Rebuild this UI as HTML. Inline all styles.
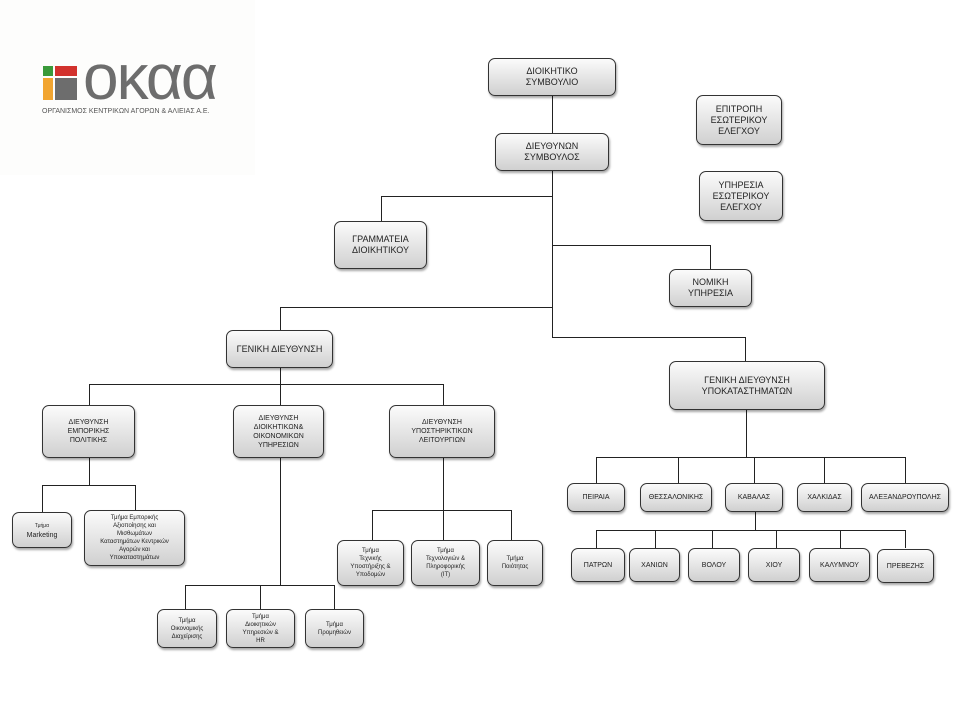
<!DOCTYPE html>
<html><head><meta charset="utf-8"><style>
body{margin:0;width:960px;height:720px;background:#fff;position:relative;overflow:hidden;font-family:"Liberation Sans","DejaVu Sans",sans-serif}
.b{position:absolute;box-sizing:border-box;border:1px solid #333;border-radius:7px;background:linear-gradient(#fbfbfb,#d0d0d0);box-shadow:1px 2px 2px rgba(0,0,0,.35);display:flex;align-items:center;justify-content:center;text-align:center;font-size:9px;line-height:11px;color:#222}
.s{font-size:7px;line-height:9px}
.l{position:absolute;background:#222}
</style></head><body>
<div style="position:absolute;left:0;top:0;width:255px;height:175px;background:#fdfdfc"></div>
<div style="position:absolute;left:43px;top:66px;width:10px;height:10px;background:#3a9a3a"></div>
<div style="position:absolute;left:55px;top:66px;width:22px;height:10px;background:#d2322d"></div>
<div style="position:absolute;left:43px;top:78px;width:10px;height:22px;background:#f2a530"></div>
<div style="position:absolute;left:55px;top:78px;width:22px;height:22px;background:#6d6d6d"></div>
<div style="position:absolute;left:83px;top:45px;font-size:64px;line-height:64px;color:#6d6d6d;letter-spacing:-2px;font-weight:300">οκαα</div>
<div style="position:absolute;left:42px;top:108px;font-size:7px;color:#555;white-space:nowrap;letter-spacing:0px">ΟΡΓΑΝΙΣΜΟΣ ΚΕΝΤΡΙΚΩΝ ΑΓΟΡΩΝ &amp; ΑΛΙΕΙΑΣ Α.Ε.</div>

<!-- lines -->
<div class="l" style="left:552px;top:96px;width:1px;height:242px"></div>
<div class="l" style="left:381px;top:196px;width:172px;height:1px"></div>
<div class="l" style="left:381px;top:196px;width:1px;height:25px"></div>
<div class="l" style="left:552px;top:245px;width:158px;height:1px"></div>
<div class="l" style="left:710px;top:245px;width:1px;height:24px"></div>
<div class="l" style="left:280px;top:307px;width:273px;height:1px"></div>
<div class="l" style="left:280px;top:307px;width:1px;height:23px"></div>
<div class="l" style="left:552px;top:337px;width:194px;height:1px"></div>
<div class="l" style="left:745px;top:337px;width:1px;height:24px"></div>
<div class="l" style="left:280px;top:368px;width:1px;height:16px"></div>
<div class="l" style="left:89px;top:384px;width:355px;height:1px"></div>
<div class="l" style="left:89px;top:384px;width:1px;height:21px"></div>
<div class="l" style="left:280px;top:384px;width:1px;height:21px"></div>
<div class="l" style="left:443px;top:384px;width:1px;height:21px"></div>
<div class="l" style="left:89px;top:458px;width:1px;height:27px"></div>
<div class="l" style="left:42px;top:485px;width:94px;height:1px"></div>
<div class="l" style="left:42px;top:485px;width:1px;height:27px"></div>
<div class="l" style="left:135px;top:485px;width:1px;height:25px"></div>
<div class="l" style="left:280px;top:458px;width:1px;height:127px"></div>
<div class="l" style="left:185px;top:585px;width:150px;height:1px"></div>
<div class="l" style="left:185px;top:585px;width:1px;height:24px"></div>
<div class="l" style="left:260px;top:585px;width:1px;height:24px"></div>
<div class="l" style="left:334px;top:585px;width:1px;height:24px"></div>
<div class="l" style="left:443px;top:458px;width:1px;height:52px"></div>
<div class="l" style="left:372px;top:510px;width:140px;height:1px"></div>
<div class="l" style="left:372px;top:510px;width:1px;height:30px"></div>
<div class="l" style="left:443px;top:510px;width:1px;height:30px"></div>
<div class="l" style="left:511px;top:510px;width:1px;height:30px"></div>
<div class="l" style="left:746px;top:410px;width:1px;height:47px"></div>
<div class="l" style="left:596px;top:457px;width:310px;height:1px"></div>
<div class="l" style="left:596px;top:457px;width:1px;height:26px"></div>
<div class="l" style="left:678px;top:457px;width:1px;height:26px"></div>
<div class="l" style="left:754px;top:457px;width:1px;height:26px"></div>
<div class="l" style="left:824px;top:457px;width:1px;height:26px"></div>
<div class="l" style="left:905px;top:457px;width:1px;height:26px"></div>
<div class="l" style="left:755px;top:512px;width:1px;height:18px"></div>
<div class="l" style="left:596px;top:530px;width:310px;height:1px"></div>
<div class="l" style="left:596px;top:530px;width:1px;height:18px"></div>
<div class="l" style="left:655px;top:530px;width:1px;height:18px"></div>
<div class="l" style="left:712px;top:530px;width:1px;height:18px"></div>
<div class="l" style="left:776px;top:530px;width:1px;height:18px"></div>
<div class="l" style="left:840px;top:530px;width:1px;height:18px"></div>
<div class="l" style="left:905px;top:530px;width:1px;height:18px"></div>

<!-- boxes -->
<div class="b" style="left:488px;top:58px;width:128px;height:38px">ΔΙΟΙΚΗΤΙΚΟ<br>ΣΥΜΒΟΥΛΙΟ</div>
<div class="b" style="left:495px;top:133px;width:114px;height:38px">ΔΙΕΥΘΥΝΩΝ<br>ΣΥΜΒΟΥΛΟΣ</div>
<div class="b" style="left:696px;top:95px;width:86px;height:50px">ΕΠΙΤΡΟΠΗ<br>ΕΣΩΤΕΡΙΚΟΥ<br>ΕΛΕΓΧΟΥ</div>
<div class="b" style="left:699px;top:171px;width:84px;height:50px">ΥΠΗΡΕΣΙΑ<br>ΕΣΩΤΕΡΙΚΟΥ<br>ΕΛΕΓΧΟΥ</div>
<div class="b" style="left:334px;top:221px;width:93px;height:48px">ΓΡΑΜΜΑΤΕΙΑ<br>ΔΙΟΙΚΗΤΙΚΟΥ</div>
<div class="b" style="left:669px;top:269px;width:83px;height:38px">ΝΟΜΙΚΗ<br>ΥΠΗΡΕΣΙΑ</div>
<div class="b" style="left:226px;top:330px;width:107px;height:38px">ΓΕΝΙΚΗ ΔΙΕΥΘΥΝΣΗ</div>
<div class="b" style="left:669px;top:361px;width:156px;height:49px">ΓΕΝΙΚΗ ΔΙΕΥΘΥΝΣΗ<br>ΥΠΟΚΑΤΑΣΤΗΜΑΤΩΝ</div>
<div class="b s" style="left:42px;top:405px;width:93px;height:53px">ΔΙΕΥΘΥΝΣΗ<br>ΕΜΠΟΡΙΚΗΣ<br>ΠΟΛΙΤΙΚΗΣ</div>
<div class="b s" style="left:233px;top:405px;width:91px;height:53px">ΔΙΕΥΘΥΝΣΗ<br>ΔΙΟΙΚΗΤΙΚΩΝ&amp;<br>ΟΙΚΟΝΟΜΙΚΩΝ<br>ΥΠΗΡΕΣΙΩΝ</div>
<div class="b s" style="left:389px;top:405px;width:106px;height:53px">ΔΙΕΥΘΥΝΣΗ<br>ΥΠΟΣΤΗΡΙΚΤΙΚΩΝ<br>ΛΕΙΤΟΥΡΓΙΩΝ</div>
<div class="b s" style="left:12px;top:512px;width:60px;height:36px"><span><span style="font-size:5px">Τμήμα</span><br>Marketing</span></div>
<div class="b" style="left:84px;top:510px;width:101px;height:56px;font-size:6px;line-height:8px">Τμήμα Εμπορικής<br>Αξιοποίησης και<br>Μισθωμάτων<br>Καταστημάτων Κεντρικών<br>Αγορών και<br>Υποκαταστημάτων</div>
<div class="b" style="left:157px;top:609px;width:60px;height:39px;font-size:6px;line-height:8px">Τμήμα<br>Οικονομικής<br>Διαχείρισης</div>
<div class="b" style="left:226px;top:609px;width:69px;height:39px;font-size:6px;line-height:8px">Τμήμα<br>Διοικητικών<br>Υπηρεσιών &amp;<br>HR</div>
<div class="b" style="left:305px;top:609px;width:59px;height:39px;font-size:6px;line-height:8px">Τμήμα<br>Προμηθειών</div>
<div class="b" style="left:337px;top:540px;width:67px;height:46px;font-size:6px;line-height:8px">Τμήμα<br>Τεχνικής<br>Υποστήριξης &amp;<br>Υποδομών</div>
<div class="b" style="left:411px;top:540px;width:69px;height:46px;font-size:6px;line-height:8px">Τμήμα<br>Τεχνολογιών &amp;<br>Πληροφορικής<br>(IT)</div>
<div class="b" style="left:487px;top:540px;width:56px;height:46px;font-size:6px;line-height:8px">Τμήμα<br>Ποιότητας</div>
<div class="b s" style="left:567px;top:483px;width:58px;height:29px">ΠΕΙΡΑΙΑ</div>
<div class="b s" style="left:640px;top:483px;width:72px;height:29px">ΘΕΣΣΑΛΟΝΙΚΗΣ</div>
<div class="b s" style="left:725px;top:483px;width:58px;height:29px">ΚΑΒΑΛΑΣ</div>
<div class="b s" style="left:797px;top:483px;width:55px;height:29px">ΧΑΛΚΙΔΑΣ</div>
<div class="b s" style="left:861px;top:483px;width:88px;height:29px">ΑΛΕΞΑΝΔΡΟΥΠΟΛΗΣ</div>
<div class="b s" style="left:571px;top:548px;width:54px;height:34px">ΠΑΤΡΩΝ</div>
<div class="b s" style="left:629px;top:548px;width:51px;height:34px">ΧΑΝΙΩΝ</div>
<div class="b s" style="left:688px;top:548px;width:52px;height:34px">ΒΟΛΟΥ</div>
<div class="b s" style="left:748px;top:548px;width:52px;height:34px">ΧΙΟΥ</div>
<div class="b s" style="left:809px;top:548px;width:61px;height:34px">ΚΑΛΥΜΝΟΥ</div>
<div class="b s" style="left:877px;top:549px;width:57px;height:34px">ΠΡΕΒΕΖΗΣ</div>
</body></html>
